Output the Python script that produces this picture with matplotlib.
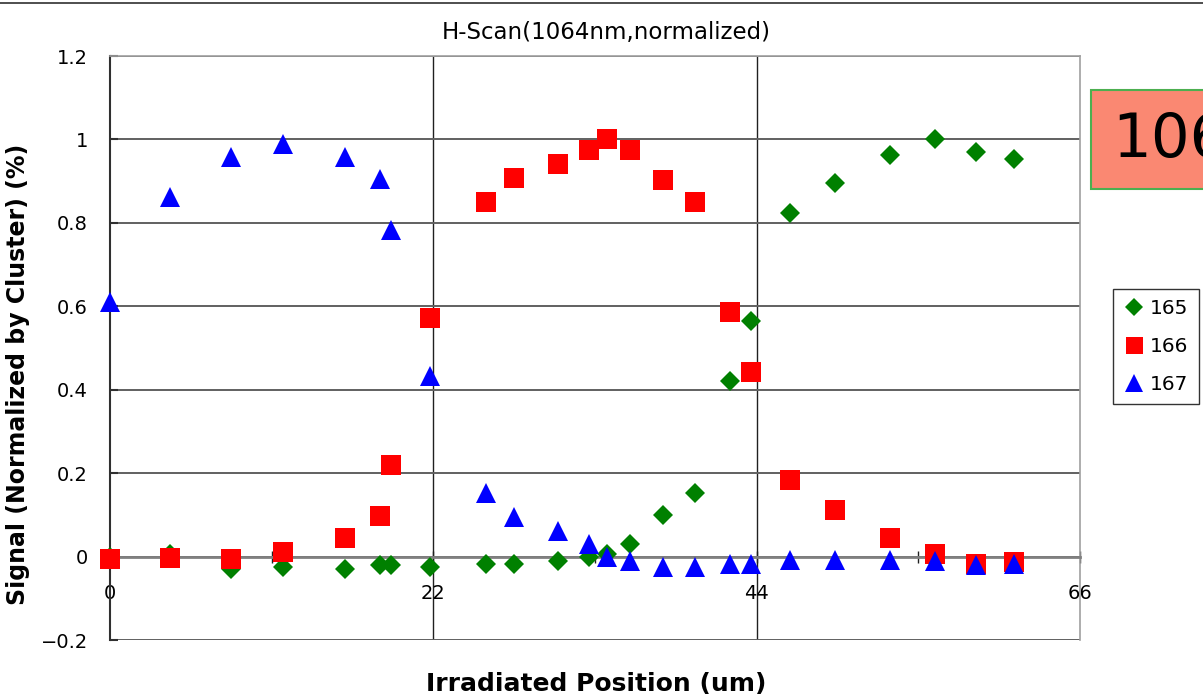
import matplotlib.pyplot as plt
from matplotlib.patches import Rectangle
from matplotlib.lines import Line2D

# Data
position = [0, 4.1, 8.2, 11.8, 16.0, 18.4, 19.1, 21.8, 25.6, 27.5, 30.5, 32.6,
            33.8, 35.4, 37.6, 39.8, 42.2, 43.6, 46.3, 49.3, 53.1, 56.1, 58.9, 61.5]
sig_165 = [0.0, 0.005, -0.03, -0.024, -0.03, -0.02, -0.02, -0.024, -0.019, -0.019,
           -0.01, 0.0, 0.005, 0.029, 0.10, 0.153, 0.42, 0.564, 0.823, 0.895,
           0.962, 1.0, 0.971, 0.952]
sig_166 = [-0.005, -0.003, -0.005, 0.012, 0.045, 0.098, 0.22, 0.572, 0.849, 0.907,
           0.940, 0.974, 1.002, 0.974, 0.902, 0.849, 0.586, 0.442, 0.183, 0.111,
           0.044, 0.006, -0.018, -0.014]
sig_167 = [0.61, 0.861, 0.957, 0.99, 0.957, 0.904, 0.784, 0.434, 0.153, 0.096,
           0.062, 0.029, 0.0, -0.01, -0.024, -0.024, -0.019, -0.019, -0.008, -0.008,
           -0.008, -0.011, -0.021, -0.018]
series_names = ['165', '166', '167']
x_ticks = [0, 11, 22, 33, 44, 55, 66]
x_labels = ['0', '', '22', '', '44', '', '66']
y_ticks = [-0.2, 0, 0.2, 0.4, 0.6, 0.8, 1.0, 1.2]
y_labels = ['\u22120.2', '0', '0.2', '0.4', '0.6', '0.8', '1', '1.2']
x_grid = [22, 44]

W, H = 1203, 700
fig = plt.figure(figsize=(W / 100, H / 100), dpi=100)
ax = fig.add_axes([110 / W, 60 / H, 970 / W, 584 / H])

# Markers (drawn in series order so 167 sits on top)
ax.plot(position, sig_165, 'D', color='#008000', ms=10.5, mew=0,
        label=series_names[0], zorder=3, clip_on=False)
ax.plot(position, sig_166, 's', color='#FF0000', ms=14.4, mew=0,
        label=series_names[1], zorder=4, clip_on=False)
ax.plot(position, sig_167, '^', color='#0000FF', ms=15, mew=0,
        label=series_names[2], zorder=5, clip_on=False)

ax.set_xlim(0, 66)
ax.set_ylim(-0.2, 1.2)

# Grid
ax.set_yticks(y_ticks)
ax.set_yticklabels(y_labels)
ax.yaxis.grid(True, color='#606060', lw=1.4)
for g in x_grid:
    ax.axvline(g, color='#202020', lw=1.0, zorder=1)

# Axes lines: x axis crosses at 0
ax.spines['bottom'].set_position(('data', 0))
ax.spines['bottom'].set_color('#808080')
ax.spines['bottom'].set_linewidth(2)
ax.spines['left'].set_color('#303030')
ax.spines['left'].set_linewidth(1.5)
for s in ['top', 'right']:
    ax.spines[s].set_color('#a0a0a0')
    ax.spines[s].set_linewidth(1.2)

ax.set_xticks(x_ticks)
ax.set_xticklabels(x_labels)
ax.tick_params(axis='x', direction='inout', length=8, width=1, color='#202020',
               labelsize=14, pad=16)
ax.tick_params(axis='y', direction='in', length=6, width=1.5, color='#303030',
               labelsize=14, pad=16)

fig.text(606 / W, 1 - 33 / H, 'H-Scan(1064nm,normalized)', fontsize=16.5,
         ha='center', va='center')
fig.text(596 / W, 1 - 684 / H, 'Irradiated Position (um)', fontsize=18,
         fontweight='bold', ha='center', va='center')
fig.text(18 / W, 1 - 374 / H, 'Signal (Normalized by Cluster) (%)', fontsize=17,
         fontweight='bold', rotation=90, ha='center', va='center')

# Legend
leg = fig.legend(loc='upper left', bbox_to_anchor=(1113 / W, 1 - 289 / H),
                 fontsize=14.5, frameon=True, fancybox=False, edgecolor='black',
                 borderaxespad=0, handletextpad=0.25, labelspacing=0.95,
                 handlelength=1.1, borderpad=0.5, markerscale=0.85)
leg.get_frame().set_linewidth(1.0)

# Partly cropped label box at the right edge
fig.patches.append(Rectangle((1091 / W, 1 - 189 / H), 200 / W, 99 / H,
                             transform=fig.transFigure, facecolor='#FA8872',
                             edgecolor='#4CAF50', lw=1.5))
fig.text(1112 / W, 1 - 140 / H, '1064nm', fontsize=44, ha='left', va='center')

# Top border line of the picture
fig.lines.append(Line2D([0, 1], [1 - 3 / H, 1 - 3 / H], transform=fig.transFigure,
                        color='#303030', lw=1.2))

fig.savefig('out.png', dpi=100)
